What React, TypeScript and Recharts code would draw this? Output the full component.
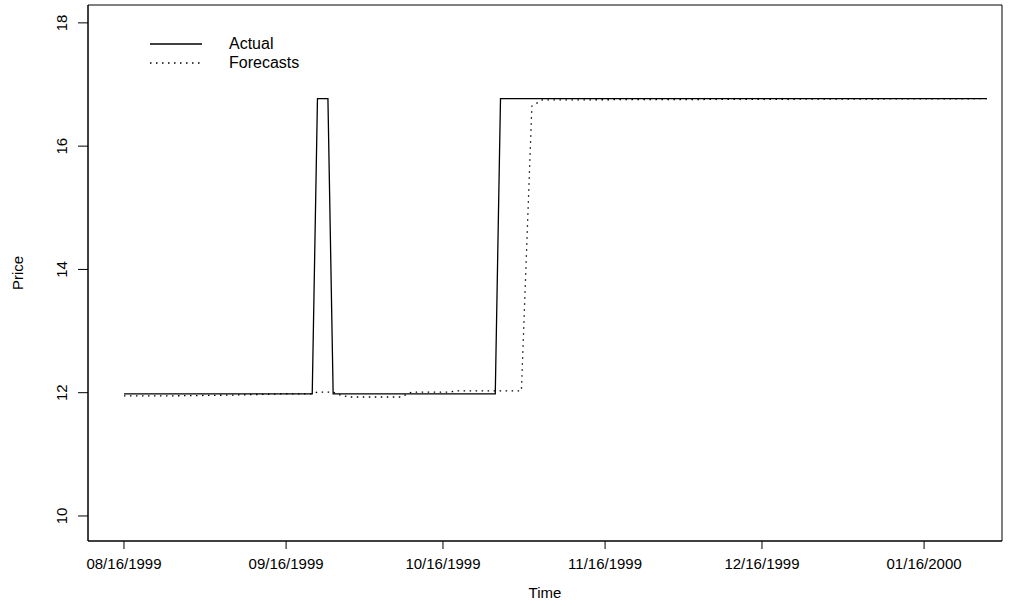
import React from 'react'
import { LineChart, Line, XAxis, YAxis, ReferenceArea, Legend, Label } from 'recharts'

// x = days since 08/16/1999
const tickDays = [0, 31, 61, 92, 122, 153]
const tickLabels = ['08/16/1999', '09/16/1999', '10/16/1999', '11/16/1999', '12/16/1999', '01/16/2000']
const priceTicks = [10, 12, 14, 16, 18]

const actualDays = [0, 36, 37, 39, 40, 71, 72, 165]
const actualPrice = [11.98, 11.98, 16.77, 16.77, 11.98, 11.98, 16.77, 16.77]

const forecastDays = [0, 10, 20, 30, 36, 37, 40, 41, 43, 53, 55, 62, 64, 76, 78, 80, 165]
const forecastPrice = [11.95, 11.95, 11.96, 11.98, 11.98, 12.01, 12.01, 11.97, 11.93, 11.93, 12.01, 12.01, 12.03, 12.03, 16.65, 16.75, 16.77]

const actual = actualDays.map((d, i) => ({ day: d, price: actualPrice[i] }))
const forecast = forecastDays.map((d, i) => ({ day: d, price: forecastPrice[i] }))

const xDomain: [number, number] = [-6.88, 167.9]
const yDomain: [number, number] = [9.594, 18.29]

const FONT = '"Liberation Sans", Arial, sans-serif'

const XTick = ({ x, y, payload }: any) => (
  <text x={x} y={y + 18} textAnchor="middle" fontSize={15} fontFamily={FONT} fill="#000">
    {tickLabels[tickDays.indexOf(payload.value)]}
  </text>
)

const YTick = ({ x, y, payload }: any) => (
  <text
    x={x - 9}
    y={y}
    transform={`rotate(-90, ${x - 9}, ${y})`}
    textAnchor="middle"
    fontSize={15}
    fontFamily={FONT}
    fill="#000"
  >
    {payload.value}
  </text>
)

const LegendBox = () => (
  <div style={{ position: 'relative', height: 0, width: 0, fontFamily: FONT, fontSize: 16 }}>
    {[
      { name: 'Actual', dash: undefined, top: 44 },
      { name: 'Forecasts', dash: '1.5 4.5', top: 63 },
    ].map(item => (
      <div key={item.name} style={{ position: 'absolute', left: 150, top: item.top - 10, height: 20, whiteSpace: 'nowrap', display: 'flex', alignItems: 'center' }}>
        <svg width={52} height={20}>
          <line x1={0} x2={52} y1={10} y2={10} stroke="#000" strokeWidth={1.3} strokeDasharray={item.dash} />
        </svg>
        <span style={{ marginLeft: 27 }}>{item.name}</span>
      </div>
    ))}
  </div>
)

export default function App() {
  return (
    <div style={{ position: 'absolute', left: 0, top: 0, width: 1011, height: 606, background: '#fff' }}>
      <LineChart width={1011} height={606} margin={{ top: 5, right: 9, bottom: 0, left: 0 }}>
        <XAxis
          dataKey="day"
          type="number"
          domain={xDomain}
          allowDataOverflow
          ticks={tickDays}
          interval={0}
          tick={<XTick />}
          tickSize={8}
          tickLine={{ stroke: '#000' }}
          axisLine={{ stroke: '#000' }}
          height={65}
        >
          <Label
            content={({ viewBox }: any) => (
              <text x={viewBox.x + viewBox.width / 2} y={viewBox.y + 57} textAnchor="middle" fontSize={15} fontFamily={FONT} fill="#000">
                Time
              </text>
            )}
          />
        </XAxis>
        <YAxis
          dataKey="price"
          type="number"
          domain={yDomain}
          allowDataOverflow
          ticks={priceTicks}
          interval={0}
          tick={<YTick />}
          tickSize={10}
          tickLine={{ stroke: '#000' }}
          axisLine={{ stroke: '#000' }}
          width={88}
        >
          <Label
            content={({ viewBox }: any) => {
              const cx = 22.5
              const cy = viewBox.y + viewBox.height / 2
              return (
                <text x={cx} y={cy} transform={`rotate(-90, ${cx}, ${cy})`} textAnchor="middle" fontSize={15} fontFamily={FONT} fill="#000">
                  Price
                </text>
              )
            }}
          />
        </YAxis>
        <ReferenceArea x1={xDomain[0]} x2={xDomain[1]} y1={yDomain[0]} y2={yDomain[1]} fill="none" stroke="#000" strokeWidth={1} ifOverflow="visible" />
        <Line data={actual} dataKey="price" name="Actual" type="linear" stroke="#000" strokeWidth={1.3} dot={false} isAnimationActive={false} />
        <Line data={forecast} dataKey="price" name="Forecasts" type="linear" stroke="#000" strokeWidth={1.3} strokeDasharray="1.5 4.5" dot={false} isAnimationActive={false} />
        <Legend verticalAlign="top" align="left" content={<LegendBox />} wrapperStyle={{ left: 0, top: 0, margin: 0, padding: 0 }} />
      </LineChart>
    </div>
  )
}
